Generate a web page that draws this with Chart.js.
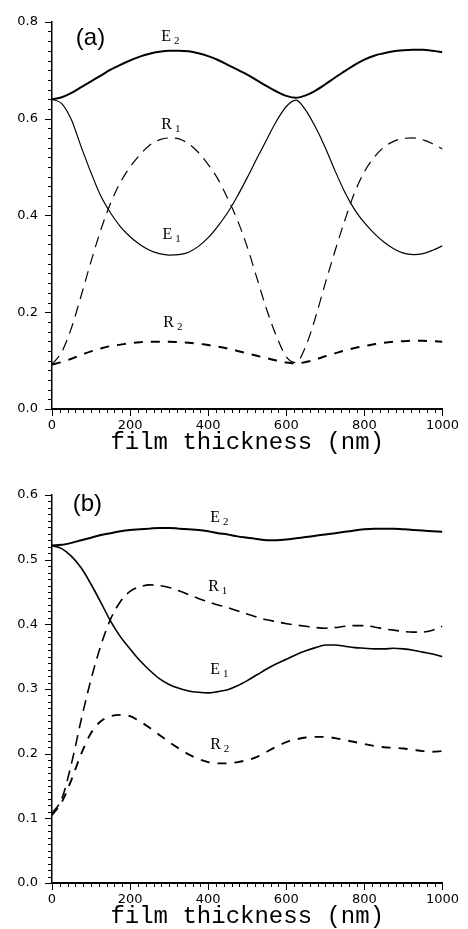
<!DOCTYPE html>
<html>
<head>
<meta charset="utf-8">
<script src="https://cdn.jsdelivr.net/npm/chart.js@4.4.1/dist/chart.umd.min.js"></script>
<style>
  html, body { margin: 0; padding: 0; background: #fff; }
  canvas { display: block; }
</style>
</head>
<body>
<canvas id="chartA" width="468" height="470"></canvas>
<canvas id="chartB" width="468" height="459"></canvas>
<script>
// film thickness (nm), shared by every curve
const thickness = [0, 25, 50, 75, 100, 125, 150, 175, 200, 225, 250, 275, 300, 325, 350, 375, 400,
  425, 450, 475, 500, 525, 550, 575, 600, 625, 650, 675, 700, 725, 750, 775, 800, 825, 850, 875,
  900, 925, 950, 975, 1000];

// panel (a)
const aE2 = [0.640, 0.644, 0.653, 0.665, 0.677, 0.689, 0.701, 0.711, 0.720, 0.728, 0.734, 0.738, 0.740,
  0.740, 0.739, 0.735, 0.729, 0.721, 0.711, 0.701, 0.691, 0.679, 0.667, 0.656, 0.647, 0.643, 0.648,
  0.658, 0.671, 0.685, 0.698, 0.711, 0.722, 0.730, 0.735, 0.739, 0.741, 0.742, 0.742, 0.740, 0.737];
const aE1 = [0.640, 0.631, 0.597, 0.541, 0.488, 0.440, 0.405, 0.377, 0.356, 0.340, 0.328, 0.321, 0.318,
  0.319, 0.324, 0.336, 0.354, 0.378, 0.406, 0.440, 0.478, 0.518, 0.557, 0.595, 0.625, 0.638, 0.617,
  0.582, 0.540, 0.492, 0.448, 0.412, 0.385, 0.363, 0.345, 0.331, 0.322, 0.319, 0.321, 0.328, 0.337];
const aR1 = [0.092, 0.118, 0.168, 0.235, 0.305, 0.370, 0.425, 0.468, 0.500, 0.525, 0.545, 0.556, 0.560,
  0.558, 0.548, 0.530, 0.505, 0.475, 0.435, 0.390, 0.335, 0.270, 0.205, 0.150, 0.108, 0.096, 0.130,
  0.190, 0.260, 0.327, 0.390, 0.447, 0.490, 0.520, 0.541, 0.553, 0.559, 0.560, 0.556, 0.548, 0.537];
const aR2 = [0.092, 0.097, 0.104, 0.112, 0.119, 0.125, 0.130, 0.133, 0.136, 0.138, 0.139, 0.139, 0.139,
  0.138, 0.137, 0.135, 0.132, 0.129, 0.125, 0.120, 0.115, 0.110, 0.105, 0.100, 0.096, 0.094, 0.097,
  0.102, 0.109, 0.115, 0.121, 0.126, 0.130, 0.134, 0.137, 0.139, 0.140, 0.141, 0.141, 0.140, 0.139];

// panel (b)
const bE2 = [0.522, 0.523, 0.526, 0.530, 0.534, 0.538, 0.541, 0.544, 0.546, 0.547, 0.548, 0.549, 0.549,
  0.548, 0.547, 0.546, 0.544, 0.541, 0.539, 0.536, 0.534, 0.532, 0.530, 0.530, 0.531, 0.533, 0.535,
  0.537, 0.539, 0.541, 0.543, 0.545, 0.547, 0.548, 0.548, 0.548, 0.547, 0.546, 0.545, 0.544, 0.543];
const bE1 = [0.522, 0.517, 0.505, 0.487, 0.462, 0.434, 0.405, 0.381, 0.362, 0.344, 0.329, 0.316, 0.307,
  0.301, 0.297, 0.295, 0.294, 0.296, 0.299, 0.305, 0.313, 0.322, 0.331, 0.339, 0.346, 0.353, 0.359,
  0.364, 0.368, 0.368, 0.366, 0.364, 0.363, 0.362, 0.362, 0.363, 0.362, 0.360, 0.357, 0.354, 0.350];
const bR1 = [0.108, 0.130, 0.185, 0.253, 0.315, 0.367, 0.408, 0.435, 0.451, 0.458, 0.461, 0.460, 0.457,
  0.452, 0.446, 0.440, 0.435, 0.430, 0.426, 0.421, 0.416, 0.411, 0.407, 0.404, 0.401, 0.399, 0.397,
  0.395, 0.394, 0.395, 0.397, 0.398, 0.398, 0.396, 0.393, 0.391, 0.389, 0.388, 0.388, 0.391, 0.397];
const bR2 = [0.105, 0.125, 0.160, 0.200, 0.232, 0.250, 0.258, 0.260, 0.258, 0.250, 0.240, 0.229, 0.218,
  0.208, 0.199, 0.192, 0.187, 0.185, 0.185, 0.187, 0.190, 0.195, 0.203, 0.211, 0.218, 0.222, 0.225,
  0.226, 0.226, 0.224, 0.221, 0.218, 0.215, 0.212, 0.210, 0.209, 0.208, 0.206, 0.204, 0.203, 0.204];

const xTicks = [0, 200, 400, 600, 800, 1000];
const yTicksA = [0.0, 0.2, 0.4, 0.6, 0.8];
const yTicksB = [0.0, 0.1, 0.2, 0.3, 0.4, 0.5, 0.6];

function pts(ys) {
  return thickness.map((x, i) => ({ x: x, y: ys[i] }));
}

// minor/major ticks and the curve labels
const panelMarks = {
  id: "panelMarks",
  afterDraw(chart, args, opts) {
    const ctx = chart.ctx;
    const xs = chart.scales.x, ys = chart.scales.y;
    const area = chart.chartArea;
    ctx.save();
    ctx.strokeStyle = "#000";
    ctx.lineWidth = 1;
    // x ticks, every 20 nm, long every 200
    for (let i = 0; i <= 50; i++) {
      const px = Math.round(xs.getPixelForValue(i * 20)) + 0.5;
      const len = i % 10 === 0 ? 7 : 4;
      ctx.beginPath();
      ctx.moveTo(px, area.bottom);
      ctx.lineTo(px, area.bottom + len);
      ctx.stroke();
    }
    // y ticks
    const n = Math.round(opts.yMax / opts.yMinor);
    for (let i = 0; i <= n; i++) {
      const py = Math.round(ys.getPixelForValue(i * opts.yMinor)) + 0.5;
      const len = i % 10 === 0 ? 7 : 4;
      ctx.beginPath();
      ctx.moveTo(area.left, py);
      ctx.lineTo(area.left - len, py);
      ctx.stroke();
    }
    // panel letter
    ctx.fillStyle = "#000";
    ctx.textBaseline = "middle";
    ctx.textAlign = "left";
    ctx.font = "24px 'Liberation Sans'";
    ctx.fillText(opts.letter.text, xs.getPixelForValue(opts.letter.x), ys.getPixelForValue(opts.letter.y));
    // curve names with subscripts
    opts.names.forEach(function (n) {
      const px = xs.getPixelForValue(n.x);
      const py = ys.getPixelForValue(n.y);
      ctx.font = "16px 'Liberation Serif'";
      ctx.fillText(n.text, px, py);
      const w = ctx.measureText(n.text).width;
      ctx.font = "11px 'Liberation Serif'";
      ctx.fillText(n.sub, px + w + 3, py + 4);
    });
    ctx.restore();
  }
};

function makeChart(id, series, yMax, yTicks, pad, xHeight, titlePad, marks, widths) {
  const styles = [
    { label: "E2", width: widths[0], dash: [] },
    { label: "E1", width: widths[1], dash: [] },
    { label: "R1", width: widths[2], dash: [11, 7] },
    { label: "R2", width: widths[3], dash: [9, 8] }
  ];
  return new Chart(document.getElementById(id), {
    type: "line",
    data: {
      datasets: series.map((s, i) => ({
        label: styles[i].label,
        data: pts(s),
        borderColor: "#000",
        borderWidth: styles[i].width,
        borderDash: styles[i].dash,
        pointRadius: 0,
        fill: false,
        cubicInterpolationMode: "monotone"
      }))
    },
    options: {
      responsive: false,
      animation: false,
      devicePixelRatio: 1,
      layout: { padding: pad },
      plugins: {
        legend: { display: false },
        tooltip: { enabled: false },
        panelMarks: marks
      },
      scales: {
        x: {
          type: "linear",
          min: 0,
          max: 1000,
          afterFit(scale) { scale.height = xHeight; },
          afterBuildTicks(scale) { scale.ticks = xTicks.map(v => ({ value: v })); },
          grid: { display: false, drawTicks: false },
          border: { display: true, color: "#000", width: 2 },
          ticks: {
            padding: 9,
            color: "#000",
            maxRotation: 0,
            font: { family: "'DejaVu Sans'", size: 13 },
            callback: v => String(v)
          },
          title: {
            display: true,
            text: "film thickness (nm)",
            color: "#000",
            font: { family: "'Liberation Mono'", size: 24, lineHeight: 1 },
            padding: { top: 0, bottom: titlePad }
          }
        },
        y: {
          min: 0,
          max: yMax,
          afterFit(scale) { scale.width = 52; },
          afterBuildTicks(scale) { scale.ticks = yTicks.map(v => ({ value: v })); },
          grid: { display: false, drawTicks: false },
          border: { display: true, color: "#000", width: 1.5 },
          ticks: {
            padding: 14,
            color: "#000",
            font: { family: "'DejaVu Sans'", size: 13 },
            callback: v => v.toFixed(1)
          }
        }
      }
    },
    plugins: [panelMarks]
  });
}

makeChart("chartA", [aE2, aE1, aR1, aR2], 0.8, yTicksA,
  { top: 18, right: 20, left: 0, bottom: 0 }, 61, 15,
  {
    yMax: 0.8, yMinor: 0.02,
    letter: { text: "(a)", x: 61, y: 0.765 },
    names: [
      { text: "E", sub: "2", x: 280, y: 0.769 },
      { text: "R", sub: "1", x: 280, y: 0.587 },
      { text: "E", sub: "1", x: 283, y: 0.360 },
      { text: "R", sub: "2", x: 285, y: 0.178 }
    ]
  }, [2, 1.2, 1.2, 2]);

makeChart("chartB", [bE2, bE1, bR1, bR2], 0.6, yTicksB,
  { top: 25, right: 21, left: 0, bottom: 0 }, 46, 0,
  {
    yMax: 0.6, yMinor: 0.01,
    letter: { text: "(b)", x: 53, y: 0.586 },
    names: [
      { text: "E", sub: "2", x: 405, y: 0.564 },
      { text: "R", sub: "1", x: 400, y: 0.458 },
      { text: "E", sub: "1", x: 405, y: 0.329 },
      { text: "R", sub: "2", x: 405, y: 0.213 }
    ]
  }, [2, 1.6, 1.6, 1.9]);
</script>
</body>
</html>
